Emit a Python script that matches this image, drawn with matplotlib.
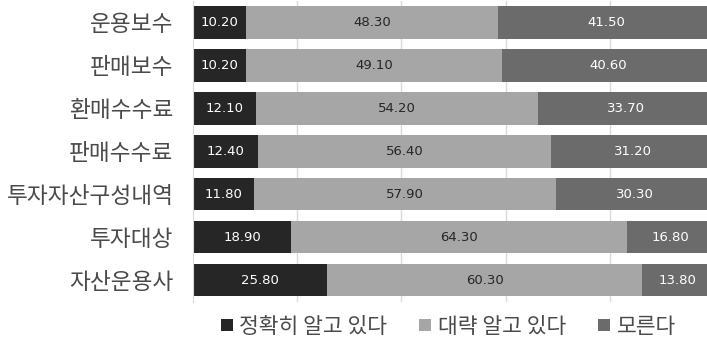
import matplotlib.pyplot as plt
import numpy as np

plt.rcParams['font.family'] = ['Noto Sans CJK KR', 'DejaVu Sans']

# 항목별 인지도 (%)
categories = ['운용보수', '판매보수', '환매수수료', '판매수수료', '투자자산구성내역', '투자대상', '자산운용사']
exact = [10.20, 10.20, 12.10, 12.40, 11.80, 18.90, 25.80]
rough = [48.30, 49.10, 54.20, 56.40, 57.90, 64.30, 60.30]
unknown = [41.50, 40.60, 33.70, 31.20, 30.30, 16.80, 13.80]
series_names = ['정확히 알고 있다', '대략 알고 있다', '모른다']

colors = ['#262626', '#a6a6a6', '#6b6b6b']
text_colors = ['white', '#262626', 'white']

fig = plt.figure(figsize=(7.07, 3.42), dpi=100)
ax = fig.add_axes([0.273, 0.118, 0.737, 0.880])

y = np.arange(len(categories))
left = np.zeros(len(categories))
for vals, name, c, tc in zip([exact, rough, unknown], series_names, colors, text_colors):
    vals = np.array(vals)
    bars = ax.barh(y, vals, left=left, height=0.76, color=c, label=name, zorder=2)
    ax.bar_label(bars, labels=[f'{v:.2f}' for v in vals], label_type='center',
                 color=tc, fontsize=9.5, family=['DejaVu Sans'])
    left += vals

ax.set_xlim(0, 100)
ax.set_ylim(len(categories) - 0.5, -0.5)
ax.set_yticks(y)
ax.set_yticklabels(categories, fontsize=16.3, color='#4a4a4a', fontweight='light')
ax.tick_params(axis='y', length=0, pad=14)
ax.set_xticks([20, 40, 60, 80])
ax.tick_params(axis='x', length=0, labelbottom=False)
ax.grid(axis='x', color='#d9d9d9', linewidth=1, zorder=0)
for side in ['top', 'right', 'bottom']:
    ax.spines[side].set_visible(False)
ax.spines['left'].set_color('#d9d9d9')

fig.legend(loc='center', bbox_to_anchor=(0.634, 0.045), ncol=3, frameon=False,
           prop={'size': 15.5, 'weight': 'light'}, handlelength=0.55, handleheight=0.55,
           handletextpad=0.3, columnspacing=1.5, labelcolor='#4a4a4a')

fig.savefig('out.png', dpi=100)
